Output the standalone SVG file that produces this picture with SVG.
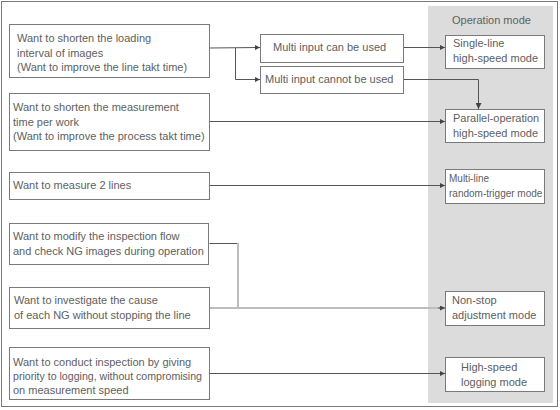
<svg xmlns="http://www.w3.org/2000/svg" width="560" height="410" viewBox="0 0 560 410">
<style>
text{font-family:"Liberation Sans","Noto Sans",sans-serif;font-size:11px;fill:#606060}
.box{fill:#fff;stroke:#7a7a7a;stroke-width:1}
.ln{fill:none;stroke:#555;stroke-width:1}
.lt{fill:none;stroke:#bdbdbd;stroke-width:2}
</style>
<defs>
<marker id="ah" markerUnits="userSpaceOnUse" markerWidth="5" markerHeight="5" refX="5" refY="2.5" orient="auto">
<path d="M0,0 L5,2.5 L0,5 z" fill="#444"/>
</marker>
<marker id="ahb" markerUnits="userSpaceOnUse" markerWidth="6" markerHeight="6" refX="6" refY="3" orient="auto">
<path d="M0,0 L6,3 L0,6 z" fill="#444"/>
</marker>
</defs>
<rect x="1.5" y="1.5" width="556" height="405" fill="#fff" stroke="#7a7a7a" stroke-width="1"/>
<rect id="panel" x="428" y="6" width="125" height="397" fill="#dcdcdc"/>
<text x="452" y="24">Operation mode</text>

<g id="connectors">
<polyline class="ln" points="209.5,48 260,47.5" marker-end="url(#ah)"/>
<polyline class="ln" points="235.5,48 235.5,79.5 260,79.5" marker-end="url(#ah)"/>
<polyline class="ln" points="403,47.5 445,47.5" marker-end="url(#ah)"/>
<polyline class="ln" points="403,79.5 478.5,79.5 478.5,109" marker-end="url(#ahb)"/>
<polyline class="ln" points="209.5,121.5 445,121.5" marker-end="url(#ah)"/>
<polyline class="ln" points="209.5,185.5 445,185.5" marker-end="url(#ah)"/>
<polyline class="ln" points="209.5,243.5 238,243.5"/>
<polyline class="lt" points="238,243 238,308"/>
<polyline class="lt" points="209.5,308 440,308"/>
<polyline class="ln" points="438,308 445,308" marker-end="url(#ah)"/>
<polyline class="ln" points="209.5,373.5 445,373.5" marker-end="url(#ah)"/>
</g>

<g id="need1">
<rect class="box" x="9.5" y="24.5" width="200" height="53"/>
<text x="17" y="42">Want to shorten the loading</text>
<text x="17" y="56.5">interval of images</text>
<text x="17" y="71">(Want to improve the line takt time)</text>
</g>
<g id="multi-can">
<rect class="box" x="260.5" y="34.5" width="143" height="28"/>
<text x="273" y="51">Multi input can be used</text>
</g>
<g id="multi-cannot">
<rect class="box" x="260.5" y="66.5" width="143" height="27"/>
<text x="265" y="83">Multi input cannot be used</text>
</g>
<g id="need2">
<rect class="box" x="9.5" y="93.5" width="200" height="57"/>
<text x="13" y="111">Want to shorten the measurement</text>
<text x="13" y="125.5">time per work</text>
<text x="13" y="140">(Want to improve the process takt time)</text>
</g>
<g id="need3">
<rect class="box" x="9.5" y="172.5" width="200" height="27"/>
<text x="13" y="189">Want to measure 2 lines</text>
</g>
<g id="need4">
<rect class="box" x="9.5" y="223.5" width="199" height="41"/>
<text x="13" y="240">Want to modify the inspection flow</text>
<text x="13" y="255">and check NG images during operation</text>
</g>
<g id="need5">
<rect class="box" x="9.5" y="287.5" width="200" height="41"/>
<text x="14" y="304">Want to investigate the cause</text>
<text x="14" y="319">of each NG without stopping the line</text>
</g>
<g id="need6">
<rect class="box" x="9.5" y="347.5" width="200" height="52"/>
<text x="13" y="366">Want to conduct inspection by giving</text>
<text x="13" y="380" style="font-size:10.6px">priority to logging, without compromising</text>
<text x="13" y="394">on measurement speed</text>
</g>

<g id="mode-single">
<rect class="box" x="445.5" y="35.5" width="99" height="33"/>
<text x="453" y="47">Single-line</text>
<text x="453" y="62">high-speed mode</text>
</g>
<g id="mode-parallel">
<rect class="box" x="445.5" y="109.5" width="99" height="33"/>
<text x="453" y="122">Parallel-operation</text>
<text x="453" y="137">high-speed mode</text>
</g>
<g id="mode-multiline">
<rect class="box" x="445.5" y="169.5" width="99" height="34"/>
<text x="449" y="182" style="font-size:10px">Multi-line</text>
<text x="449" y="197" style="font-size:10px">random-trigger mode</text>
</g>
<g id="mode-nonstop">
<rect class="box" x="445.5" y="291.5" width="99" height="34"/>
<text x="452" y="304">Non-stop</text>
<text x="452" y="319">adjustment mode</text>
</g>
<g id="mode-logging">
<rect class="box" x="445.5" y="357.5" width="99" height="34"/>
<text x="461" y="371">High-speed</text>
<text x="461" y="386">logging mode</text>
</g>
</svg>
